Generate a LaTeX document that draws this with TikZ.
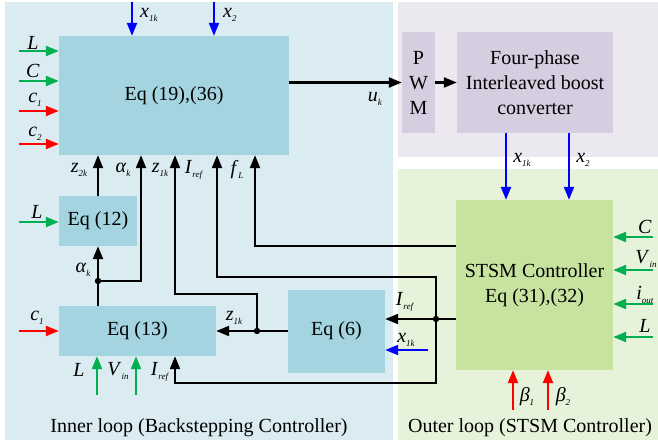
\documentclass[tikz,border=0pt]{standalone}
\usepackage{fontspec}
\setmainfont{Liberation Serif}
\usetikzlibrary{arrows.meta}
\definecolor{innerbg}{HTML}{DAEBF2}
\definecolor{topbg}{HTML}{EBE8F0}
\definecolor{outerbg}{HTML}{E6F2D9}
\definecolor{boxblue}{HTML}{A3D4E0}
\definecolor{boxpurple}{HTML}{D5CDE0}
\definecolor{boxgreen}{HTML}{C6E3A0}
\definecolor{agreen}{HTML}{00B050}
\definecolor{ared}{HTML}{FF0000}
\definecolor{ablue}{HTML}{0000FF}
\newcommand{\vv}[2]{\textit{#1}\raisebox{-4pt}{\fontsize{9}{9}\selectfont\textit{#2}}}
\begin{document}
\begin{tikzpicture}[x=1pt,y=-1pt,
  font=\rmfamily\fontsize{20}{25}\selectfont,
  bbox/.style={fill=boxblue,draw=none,align=center,inner sep=0pt},
  pbox/.style={fill=boxpurple,draw=none,align=center,inner sep=0pt},
  gbox/.style={fill=boxgreen,draw=none,align=center,inner sep=0pt},
  wire/.style={line width=2.2pt,line join=miter},
  arr/.style={wire,-{Triangle[length=13pt,width=10pt]}},
  garr/.style={arr,draw=agreen},
  rarr/.style={arr,draw=ared},
  barr/.style={arr,draw=ablue},
  lab/.style={inner sep=0pt},
  jdot/.style={fill=black}]
\useasboundingbox (0,0) rectangle (658,446);
\fill[white] (0,0) rectangle (658,446);
% panels
\fill[innerbg] (5,2) rectangle (393,440);
\fill[topbg] (398,2) rectangle (658,157);
\fill[outerbg] (398,169) rectangle (658,440);
\node[lab] at (199,428) {Inner loop (Backstepping Controller)};
\node[lab] at (530,428) {Outer loop (STSM Controller)};
% boxes
\node[bbox,minimum width=230,minimum height=119] (eq19) at (174,95.5) {Eq (19),(36)};
\node[bbox,minimum width=78,minimum height=50] (eq12) at (98,221) {Eq (12)};
\node[bbox,minimum width=157,minimum height=50] (eq13) at (137.5,331) {Eq (13)};
\node[bbox,minimum width=97,minimum height=83] (eq6) at (336.5,331) {Eq (6)};
\node[pbox,minimum width=33,minimum height=101] (pwm) at (418.5,82.5) {P\\W\\M};
\node[pbox,minimum width=156,minimum height=101] (conv) at (535,82.5) {Four-phase\\Interleaved boost\\converter};
\node[gbox,minimum width=157,minimum height=170] (stsm) at (534.5,285) {STSM Controller\\Eq (31),(32)};
% top inputs of Eq19
\coordinate (tx1) at (132,2);
\coordinate (tx2) at (214,2);
\draw[barr] (tx1) -- (tx1 |- eq19.north);
\draw[barr] (tx2) -- (tx2 |- eq19.north);
\node[lab,anchor=west] at (140,15) {\vv{x}{1k}};
\node[lab,anchor=west] at (223,15) {\vv{x}{2}};
% left inputs of Eq19
\coordinate (iL) at (19,51);
\coordinate (iC) at (19,81);
\coordinate (ic1) at (19,111);
\coordinate (ic2) at (19,144);
\draw[garr] (iL) -- (iL -| eq19.west);
\draw[garr] (iC) -- (iC -| eq19.west);
\draw[rarr] (ic1) -- (ic1 -| eq19.west);
\draw[rarr] (ic2) -- (ic2 -| eq19.west);
\node[lab] at (33,43) {\textit{L}};
\node[lab] at (33,71) {\textit{C}};
\node[lab] at (35,100) {\vv{c}{1}};
\node[lab] at (35,134) {\vv{c}{2}};
% Eq12 input
\coordinate (iL2) at (19,222);
\draw[garr] (iL2) -- (iL2 -| eq12.west);
\node[lab] at (37,212) {\textit{L}};
% Eq13 inputs
\coordinate (ic13) at (19,331);
\draw[rarr] (ic13) -- (ic13 -| eq13.west);
\node[lab] at (37,318) {\vv{c}{1}};
\coordinate (bL) at (97,395);
\coordinate (bV) at (136,395);
\draw[garr] (bL) -- (bL |- eq13.south);
\draw[garr] (bV) -- (bV |- eq13.south);
\node[lab] at (79,370) {\textit{L}};
\node[lab] at (118,371) {\vv{V}{in}};
% uk and PWM
\draw[arr] (pwm.west -| eq19.east) -- (pwm.west);
\node[lab] at (375,99) {\vv{u}{k}};
\draw[arr] (pwm.east) -- (conv.west);
% converter to STSM
\coordinate (cx1) at (506,133);
\coordinate (cx2) at (569,133);
\draw[barr] (cx1) -- (cx1 |- stsm.north);
\draw[barr] (cx2) -- (cx2 |- stsm.north);
\node[lab] at (522,160) {\vv{x}{1k}};
\node[lab] at (583,160) {\vv{x}{2}};
% STSM right inputs
\coordinate (sC) at (653,237);
\coordinate (sV) at (653,270);
\coordinate (sI) at (653,304);
\coordinate (sL) at (653,337);
\draw[garr] (sC) -- (sC -| stsm.east);
\draw[garr] (sV) -- (sV -| stsm.east);
\draw[garr] (sI) -- (sI -| stsm.east);
\draw[garr] (sL) -- (sL -| stsm.east);
\node[lab] at (645,227) {\textit{C}};
\node[lab] at (646,259) {\vv{V}{in}};
\node[lab] at (645,295) {\vv{i}{out}};
\node[lab] at (645,326) {\textit{L}};
% beta inputs
\coordinate (b1) at (513,410);
\coordinate (b2) at (548,410);
\draw[rarr] (b1) -- (b1 |- stsm.south);
\draw[rarr] (b2) -- (b2 |- stsm.south);
\node[lab] at (527,397) {\vv{β}{1}};
\node[lab] at (563,397) {\vv{β}{2}};
% Eq12 -> Eq19
\draw[arr] (eq12.north) -- (eq12.north |- eq19.south);
\node[lab] at (79,170) {\vv{z}{2k}};
% Eq13 -> Eq12, alpha to Eq19
\coordinate (dA) at (98,281);
\coordinate (aX) at (141,281);
\draw[arr] (eq12.south |- eq13.north) -- (eq12.south);
\draw[arr] (dA) -- (aX) -- (aX |- eq19.south);
\fill[jdot] (dA) circle (3.2);
\node[lab] at (83,270) {\vv{α}{k}};
\node[lab] at (123,170) {\vv{α}{k}};
% Eq6 -> Eq13 (z1k) and to Eq19
\coordinate (dZ) at (257,331);
\coordinate (zA) at (257,294);
\coordinate (zB) at (175,294);
\draw[arr] (eq6.west) -- (eq6.west -| eq13.east);
\draw[arr] (dZ) -- (zA) -- (zB) -- (zB |- eq19.south);
\fill[jdot] (dZ) circle (3.2);
\node[lab] at (234,318) {\vv{z}{1k}};
\node[lab] at (160,170) {\vv{z}{1k}};
% STSM -> Eq6 (Iref), to Eq19 and Eq13
\coordinate (dI) at (436,319);
\coordinate (rA) at (436,277);
\coordinate (rB) at (217,277);
\coordinate (rC) at (436,383);
\coordinate (rD) at (175,383);
\draw[arr] (dI -| stsm.west) -- (dI -| eq6.east);
\draw[arr] (dI) -- (rA) -- (rB) -- (rB |- eq19.south);
\draw[arr] (dI) -- (rC) -- (rD) -- (rD |- eq13.south);
\fill[jdot] (dI) circle (3.2);
\node[lab] at (405,302) {\vv{I}{ref}};
\node[lab] at (194,170) {\vv{I}{ref}};
\node[lab] at (160,372) {\vv{I}{ref}};
% fL
\coordinate (fL) at (255,246);
\draw[arr] (fL -| stsm.west) -- (fL) -- (fL |- eq19.south);
\node[lab] at (237,170) {\vv{f}{L}};
% x1k into Eq6
\coordinate (e6x) at (428,350);
\draw[barr] (e6x) -- (e6x -| eq6.east);
\node[lab] at (406,340) {\vv{x}{1k}};
\end{tikzpicture}
\end{document}
